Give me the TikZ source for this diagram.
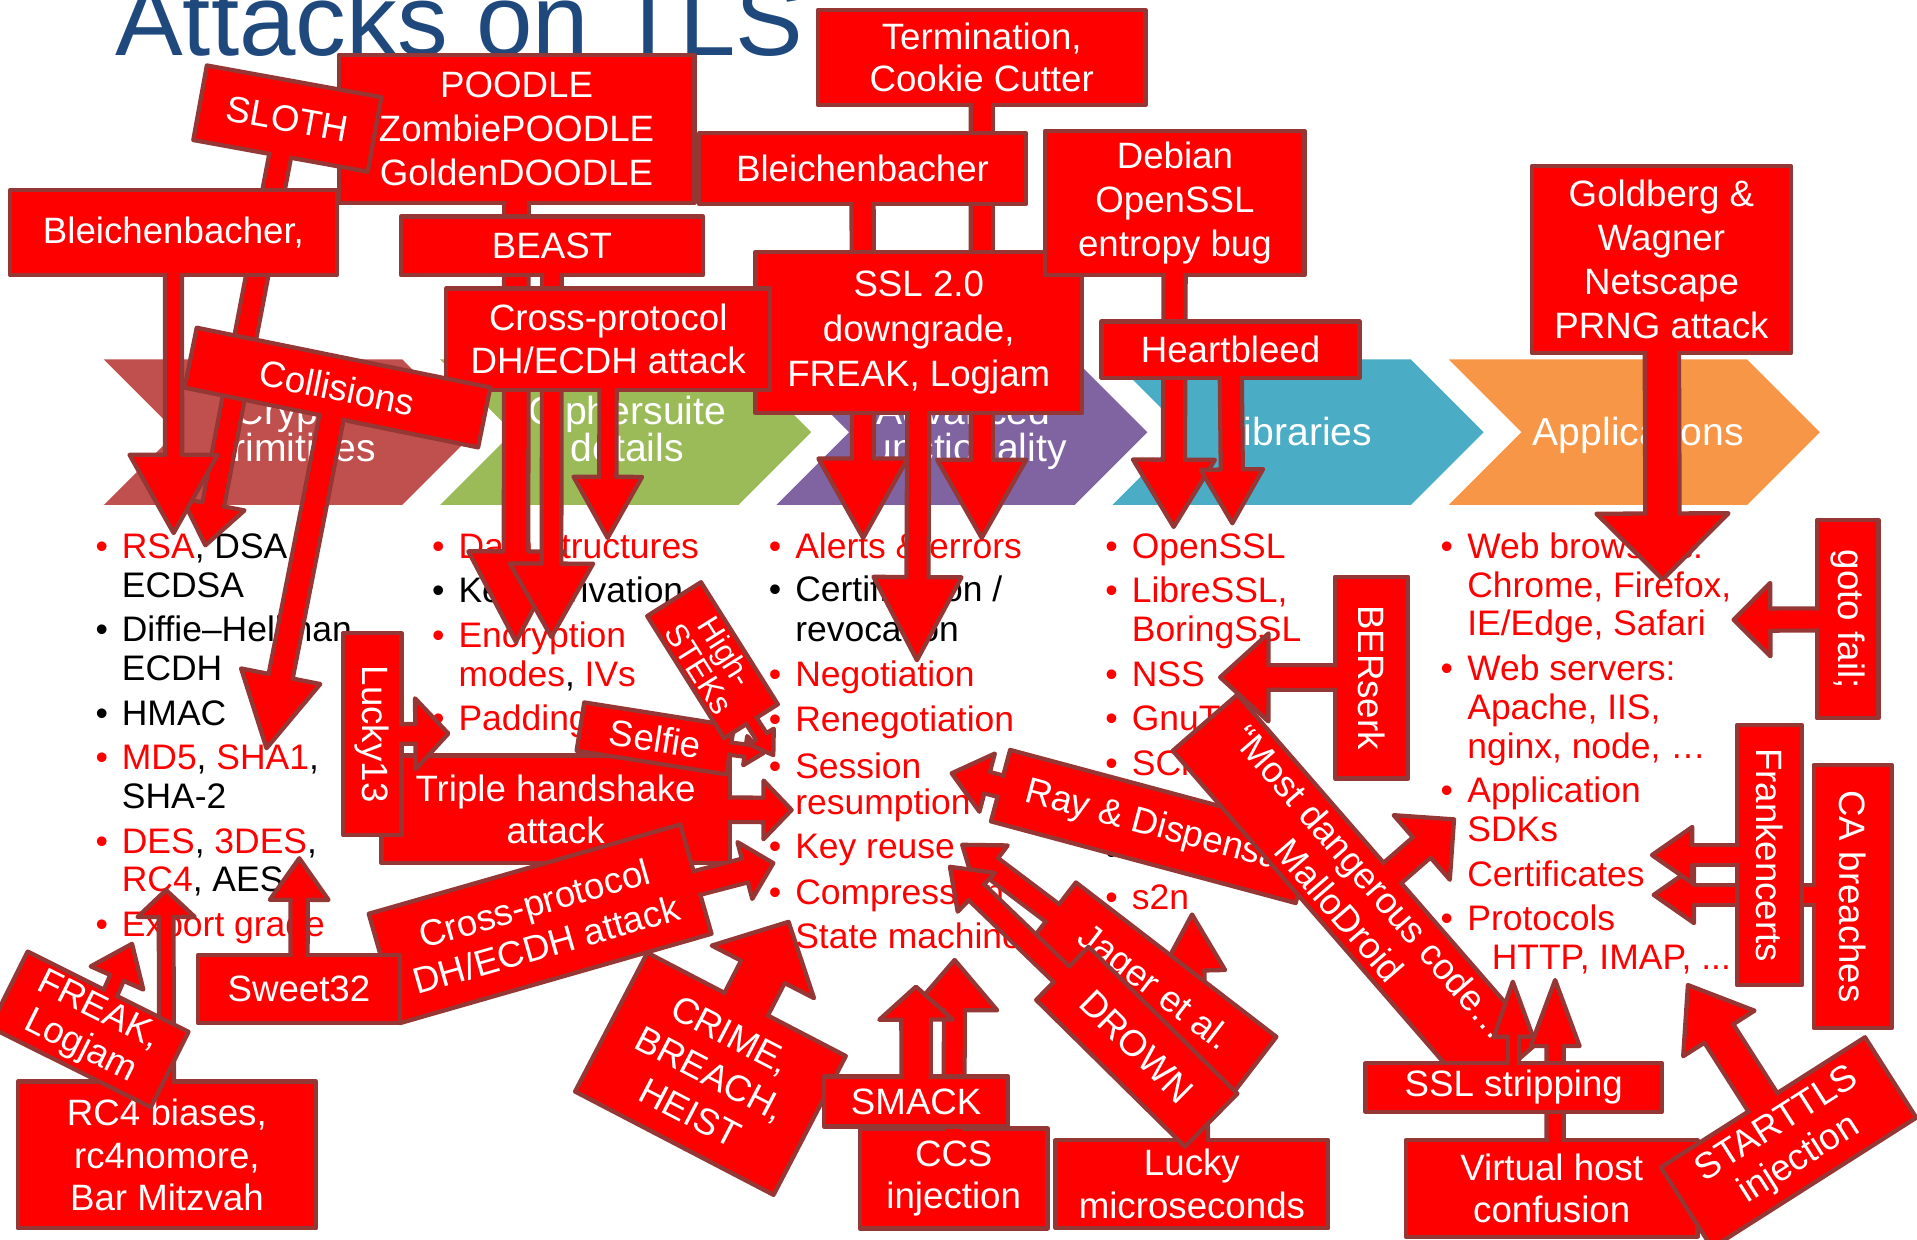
\documentclass[tikz,border=0pt]{standalone}
\usepackage{fontspec}
\setmainfont{Liberation Sans}
\usetikzlibrary{calc}

\definecolor{callred}{RGB}{255,0,0}
\definecolor{callrim}{RGB}{149,55,53}
\definecolor{titleblue}{RGB}{31,73,125}
\definecolor{chevcrypto}{RGB}{192,80,77}
\definecolor{chevcipher}{RGB}{155,187,89}
\definecolor{chevadv}{RGB}{128,100,162}
\definecolor{chevlib}{RGB}{75,172,198}
\definecolor{chevapp}{RGB}{247,150,70}
\definecolor{hot}{RGB}{255,0,0}

\newcommand\boxfont{\fontsize{30}{36}\selectfont}
\newcommand\itemfont{\fontsize{29}{32}\selectfont}
\newcommand\chevfont{\fontsize{32}{32}\selectfont}
\newcommand\rimhalf{1.75}

\tikzset{
  box/.style={fill=callred, draw=callrim, line width=3.5pt, line join=round,
    text=white, inner sep=0pt, align=center, font=\boxfont},
  dims/.style 2 args={minimum width=#1pt, minimum height=#2pt},
  arrowpart/.style={fill=callred, draw=callrim, line width=3.5pt, line join=round},
  item/.style={inner sep=0pt, anchor=base west, font=\itemfont},
  bullet/.style={inner sep=0pt, anchor=base, font=\itemfont},
  chevtext/.style={inner sep=0pt, anchor=base, text=white, font=\chevfont}
}

% fat arrow (shaft + head) from #1 to tip #2: shaft half width #3, head half width #4, head length #5
\newcommand\arrowbody[5]{%
  \coordinate (abS) at (#1);
  \coordinate (abT) at (#2);
  \coordinate (abB) at ($(abT)!#5pt!(abS)$);
  \path[arrowpart] ($(abS)!#3pt!90:(abT)$) -- ($(abB)!#3pt!-90:(abS)$)
    -- ($(abB)!#4pt!-90:(abS)$) -- (abT) -- ($(abB)!#4pt!90:(abS)$)
    -- ($(abB)!#3pt!90:(abS)$) -- ($(abS)!#3pt!-90:(abT)$) -- cycle;}

% repaint the shaft where it leaves its box, so box and arrow read as one shape
% #5 = distance from the start point to just inside the box edge
\newcommand\arrowjoin[5]{%
  \pgfmathsetmacro\ajw{#3-\rimhalf}%
  \coordinate (ajS) at ($(#1)!#5pt!(#2)$);
  \coordinate (ajT) at (#2);
  \coordinate (ajB) at ($(ajT)!#4pt!(ajS)$);
  \fill[callred] ($(ajS)!\ajw pt!90:(ajT)$) -- ($(ajB)!\ajw pt!-90:(ajS)$)
    -- ($(ajB)!\ajw pt!90:(ajS)$) -- ($(ajS)!\ajw pt!-90:(ajT)$) -- cycle;}

\newcommand\itemline[5]{\node[item, text=#4] (#1) at (#2,#3) {#5};}
\newcommand\itembullet[4]{\node[bullet, text=#4] (#1) at (#2,#3) {•};}

\begin{document}
\begin{tikzpicture}[x=1pt,y=-1pt]

\useasboundingbox (0,0) rectangle (1568,1014);
\clip (0,0) rectangle (1568,1014);

% ---------- title ----------
\node[anchor=base west, inner sep=0pt, text=titleblue,
  font=\fontsize{83}{90}\selectfont] (title) at (94,45) {Attacks on TLS};

% ---------- chevron process ----------
\foreach \cx/\cc in {85/chevcrypto,360/chevcipher,635/chevadv,910/chevlib,1185/chevapp}
  \fill[\cc] (\cx,294) -- ++(244,0) -- ++(59.5,59.5) -- ++(-59.5,59.5)
    -- ++(-244,0) -- ++(59.5,-59.5) -- cycle;
\node[chevtext] (lab-crypto1) at (240,347.6) {Crypto};
\node[chevtext] (lab-crypto2) at (240,377.6) {primitives};
\node[chevtext] (lab-cipher1) at (513,347.6) {Ciphersuite};
\node[chevtext] (lab-cipher2) at (513,377.6) {details};
\node[chevtext] (lab-adv1) at (788,347.6) {Advanced};
\node[chevtext] (lab-adv2) at (788,377.6) {functionality};
\node[chevtext] (lab-lib) at (1061,364) {Libraries};
\node[chevtext] (lab-app) at (1340,364) {Applications};

% ---------- column 1: crypto primitives ----------
\itembullet{b1a}{83.2}{456.7}{hot}
\itemline{i1a}{99.5}{456.7}{black}{\textcolor{hot}{RSA}, DSA,}
\itemline{i1b}{99.5}{488.4}{black}{ECDSA}
\itembullet{b1c}{83.2}{524.9}{black}
\itemline{i1c}{99.5}{524.9}{black}{Diffie–Hellman}
\itemline{i1d}{99.5}{556.6}{black}{ECDH}
\itembullet{b1e}{83.2}{593.1}{black}
\itemline{i1e}{99.5}{593.1}{black}{HMAC}
\itembullet{b1f}{83.2}{629.6}{hot}
\itemline{i1f}{99.5}{629.6}{black}{\textcolor{hot}{MD5}, \textcolor{hot}{SHA1},}
\itemline{i1g}{99.5}{661.3}{black}{SHA-2}
\itembullet{b1h}{83.2}{698.5}{hot}
\itemline{i1h}{99.5}{698.5}{black}{\textcolor{hot}{DES}, \textcolor{hot}{3DES},}
\itemline{i1i}{99.5}{729.5}{black}{\textcolor{hot}{RC4}, AES}
\itembullet{b1j}{83.2}{766}{hot}
\itemline{i1j}{99.5}{766}{hot}{Export grade}

% ---------- column 2: ciphersuite details ----------
\itembullet{b2a}{358.5}{456.7}{hot}
\itemline{i2a}{374.9}{456.7}{hot}{Data structures}
\itembullet{b2b}{358.5}{493.2}{black}
\itemline{i2b}{374.9}{493.2}{black}{Key derivation}
\itembullet{b2c}{358.5}{529.7}{hot}
\itemline{i2c}{374.9}{529.7}{hot}{Encryption}
\itemline{i2d}{374.9}{561.4}{black}{\textcolor{hot}{modes}, \textcolor{hot}{IVs}}
\itembullet{b2e}{358.5}{597.9}{hot}
\itemline{i2e}{374.9}{597.9}{hot}{Padding}

% ---------- column 3: advanced functionality ----------
\itembullet{b3a}{633.9}{456.7}{hot}
\itemline{i3a}{650.3}{456.7}{hot}{Alerts \& errors}
\itembullet{b3b}{633.9}{492.1}{black}
\itemline{i3b}{650.3}{492.1}{black}{Certification /}
\itemline{i3c}{650.3}{524.8}{black}{revocation}
\itembullet{b3d}{633.9}{561.6}{hot}
\itemline{i3d}{650.3}{561.6}{hot}{Negotiation}
\itembullet{b3e}{633.9}{598.5}{hot}
\itemline{i3e}{650.3}{598.5}{hot}{Renegotiation}
\itembullet{b3f}{633.9}{636.6}{hot}
\itemline{i3f}{650.3}{636.6}{hot}{Session}
\itemline{i3g}{650.3}{666.6}{hot}{resumption}
\itembullet{b3h}{633.9}{702}{hot}
\itemline{i3h}{650.3}{702}{hot}{Key reuse}
\itembullet{b3i}{633.9}{740.2}{hot}
\itemline{i3i}{650.3}{740.2}{hot}{Compression}
\itembullet{b3j}{633.9}{775.7}{hot}
\itemline{i3j}{650.3}{775.7}{hot}{State machine}

% ---------- column 4: libraries ----------
\itembullet{b4a}{909.3}{456.7}{hot}
\itemline{i4a}{925.6}{456.7}{hot}{OpenSSL}
\itembullet{b4b}{909.3}{493.2}{hot}
\itemline{i4b}{925.6}{493.2}{hot}{LibreSSL,}
\itemline{i4c}{925.6}{524.9}{hot}{BoringSSL}
\itembullet{b4d}{909.3}{561.4}{hot}
\itemline{i4d}{925.6}{561.4}{hot}{NSS}
\itembullet{b4e}{909.3}{597.9}{hot}
\itemline{i4e}{925.6}{597.9}{hot}{GnuTLS}
\itembullet{b4f}{909.3}{634.4}{hot}
\itemline{i4f}{925.6}{634.4}{hot}{SChannel}
\itembullet{b4h}{909.3}{707.4}{black}
\itembullet{b4i}{909.3}{743.9}{hot}
\itemline{i4i}{925.6}{743.9}{hot}{s2n}

% ---------- column 5: applications ----------
\itembullet{b5a}{1183.5}{456.7}{hot}
\itemline{i5a}{1200}{456.7}{hot}{Web browsers:}
\itemline{i5b}{1200}{488.4}{hot}{Chrome, Firefox,}
\itemline{i5c}{1200}{520.1}{hot}{IE/Edge, Safari}
\itembullet{b5d}{1183.5}{556.6}{hot}
\itemline{i5d}{1200}{556.6}{hot}{Web servers:}
\itemline{i5e}{1200}{588.3}{hot}{Apache, IIS,}
\itemline{i5f}{1200}{620}{hot}{nginx, node, …}
\itembullet{b5g}{1183.5}{656.5}{hot}
\itemline{i5g}{1200}{656.5}{hot}{Application}
\itemline{i5h}{1200}{688.2}{hot}{SDKs}
\itemline{i5i}{1200}{724.7}{hot}{Certificates}
\itembullet{b5j}{1183.5}{761.2}{hot}
\itemline{i5j}{1200}{761.2}{hot}{Protocols}
\itemline{i5k}{1220}{792.9}{hot}{HTTP, IMAP, ...}

% ================= attack callouts, back to front =================

% Termination, Cookie Cutter
\coordinate (c-term) at (803,47);
\coordinate (t-term) at (803,440);
\arrowbody{c-term}{t-term}{9}{36.5}{64}
\node[box, dims={268}{78}, font=\fontsize{30}{34}\selectfont] (term) at (c-term) {Termination,\\Cookie Cutter};
\arrowjoin{c-term}{t-term}{9}{64}{36}

% Bleichenbacher (alerts)
\coordinate (c-bl2) at (705.5,138);
\coordinate (t-bl2) at (706,440);
\arrowbody{c-bl2}{t-bl2}{9}{36.5}{65}
\node[box, dims={267}{58}] (bl2) at (c-bl2) {Bleichenbacher};
\arrowjoin{c-bl2}{t-bl2}{9}{65}{26}

% SSL 2.0 downgrade
\coordinate (c-ssl) at (751.5,272);
\coordinate (t-ssl) at (750,540);
\arrowbody{c-ssl}{t-ssl}{9}{36}{68}
\node[box, dims={267}{132}, font=\fontsize{30}{37}\selectfont] (ssl) at (c-ssl) {SSL 2.0\\downgrade,\\FREAK, Logjam};
\arrowjoin{c-ssl}{t-ssl}{9}{68}{63}

% Debian OpenSSL entropy bug
\coordinate (c-deb) at (961,166);
\coordinate (t-deb) at (960,431);
\arrowbody{c-deb}{t-deb}{9}{33.5}{55}
\node[box, dims={212}{118}] (deb) at (c-deb) {Debian\\OpenSSL\\entropy bug};
\arrowjoin{c-deb}{t-deb}{9}{55}{56}

% Heartbleed
\coordinate (c-heart) at (1006.5,286);
\coordinate (t-heart) at (1008,428);
\arrowbody{c-heart}{t-heart}{9}{25.5}{44}
\node[box, dims={211}{46}] (heart) at (c-heart) {Heartbleed};
\arrowjoin{c-heart}{t-heart}{9}{44}{20}

% POODLE family
\coordinate (c-poodle) at (422.5,105.5);
\coordinate (t-poodle) at (422,525);
\arrowbody{c-poodle}{t-poodle}{10}{39}{74}
\node[box, dims={291}{121}] (poodle) at (c-poodle) {POODLE\\ZombiePOODLE\\GoldenDOODLE};
\arrowjoin{c-poodle}{t-poodle}{10}{74}{57}

% SLOTH
\coordinate (c-sloth) at (235,97);
\coordinate (t-sloth) at (168,446);
\arrowbody{c-sloth}{t-sloth}{9}{26}{34}
\node[box, dims={145}{62}, rotate=-10.3] (sloth) at (c-sloth) {SLOTH};
\arrowjoin{c-sloth}{t-sloth}{9}{34}{28}

% Bleichenbacher, (RSA)
\coordinate (c-bl1) at (141.9,190.2);
\coordinate (t-bl1) at (142,436);
\arrowbody{c-bl1}{t-bl1}{7}{36}{64}
\node[box, dims={267}{70}] (bl1) at (c-bl1) {Bleichenbacher,};
\arrowjoin{c-bl1}{t-bl1}{7}{64}{32}

% BEAST
\coordinate (c-beast) at (451.5,201);
\coordinate (t-beast) at (451,521);
\arrowbody{c-beast}{t-beast}{8}{34}{60}
\node[box, dims={247}{48}] (beast) at (c-beast) {BEAST};
\arrowjoin{c-beast}{t-beast}{8}{60}{21}

% Cross-protocol DH/ECDH attack (data structures)
\coordinate (c-xpa) at (497.5,277.5);
\coordinate (t-xpa) at (497,440);
\arrowbody{c-xpa}{t-xpa}{7}{28}{50}
\node[box, dims={265}{83}, font=\fontsize{30}{35}\selectfont] (xpa) at (c-xpa) {Cross-protocol\\DH/ECDH attack};
\arrowjoin{c-xpa}{t-xpa}{7}{50}{38}

% Collisions
\coordinate (c-coll) at (276,317);
\coordinate (t-coll) at (218,612);
\arrowbody{c-coll}{t-coll}{10}{33}{60}
\node[box, dims={245}{50}, rotate=-11.5] (coll) at (c-coll) {Collisions};
\arrowjoin{c-coll}{t-coll}{10}{60}{22}

% Goldberg & Wagner
\coordinate (c-gold) at (1359,212.5);
\coordinate (t-gold) at (1360,474);
\arrowbody{c-gold}{t-gold}{14}{54}{54}
\node[box, dims={212}{153}] (gold) at (c-gold) {Goldberg \&\\Wagner\\Netscape\\PRNG attack};
\arrowjoin{c-gold}{t-gold}{14}{54}{73}

% goto fail;
\coordinate (c-goto) at (1511.4,506.5);
\coordinate (t-goto) at (1418,507);
\arrowbody{c-goto}{t-goto}{9}{30}{30}
\node[box, dims={162}{50.4}, rotate=-90] (goto) at (c-goto) {goto fail;};
\arrowjoin{c-goto}{t-goto}{9}{30}{22}

% BERserk
\coordinate (c-ber) at (1121.9,554.2);
\coordinate (t-ber) at (998,554);
\arrowbody{c-ber}{t-ber}{10}{36}{39.5}
\node[box, dims={165}{59.7}, rotate=-90] (ber) at (c-ber) {BERserk};
\arrowjoin{c-ber}{t-ber}{10}{39.5}{27}

% Ray & Dispensa
\coordinate (c-ray) at (943,676);
\coordinate (t-ray) at (778.4,632.5);
\arrowbody{c-ray}{t-ray}{9}{24.6}{30}
\node[box, dims={258}{60.5}, rotate=-15] (ray) at (c-ray) {Ray \& Dispensa};
\arrowjoin{c-ray}{t-ray}{9}{30}{126}

% Triple handshake attack
\coordinate (c-triple) at (454.5,662);
\coordinate (t-triple) at (647.5,662.5);
\arrowbody{c-triple}{t-triple}{10}{24}{23}
\node[box, dims={285}{88}, font=\fontsize{30}{35}\selectfont] (triple) at (c-triple) {Triple handshake\\attack};
\arrowjoin{c-triple}{t-triple}{10}{23}{139}

% Lucky13
\coordinate (c-l13) at (304.6,600.5);
\coordinate (t-l13) at (366.7,600);
\arrowbody{c-l13}{t-l13}{8}{29}{27}
\node[box, dims={165}{47.7}, rotate=-90] (l13) at (c-l13) {Lucky13};
\arrowjoin{c-l13}{t-l13}{8}{27}{21}

% Selfie
\coordinate (c-selfie) at (536,604);
\coordinate (t-selfie) at (624.4,616);
\arrowbody{c-selfie}{t-selfie}{5}{12}{15}
\node[box, dims={124}{40}, rotate=-9] (selfie) at (c-selfie) {Selfie};
\arrowjoin{c-selfie}{t-selfie}{5}{15}{59}

% High-STEKs
\coordinate (c-steks) at (582.8,540);
\coordinate (t-steks) at (632.5,617.6);
\arrowbody{c-steks}{t-steks}{5}{12}{18}
\node[box, dims={118}{52}, rotate=-57.8, font=\fontsize{26}{26}\selectfont] (steks) at (c-steks) {High-\\STEKs};
\arrowjoin{c-steks}{t-steks}{5}{18}{56}

% Cross-protocol DH/ECDH attack (key reuse)
\coordinate (c-xpb) at (441.8,755.6);
\coordinate (t-xpb) at (632.5,706);
\arrowbody{c-xpb}{t-xpb}{10}{24}{24}
\node[box, dims={265}{93}, rotate=16, font=\fontsize{30}{35}\selectfont] (xpb) at (c-xpb) {Cross-protocol\\DH/ECDH attack};
\arrowjoin{c-xpb}{t-xpb}{10}{24}{129}

% Sweet32
\coordinate (c-sweet) at (244.5,809);
\coordinate (t-sweet) at (244.8,702);
\arrowbody{c-sweet}{t-sweet}{7}{24}{34}
\node[box, dims={165}{56}] (sweet) at (c-sweet) {Sweet32};
\arrowjoin{c-sweet}{t-sweet}{7}{34}{25}

% CRIME, BREACH, HEIST
\coordinate (c-crime) at (581.1,878.3);
\coordinate (t-crime) at (645,754);
\arrowbody{c-crime}{t-crime}{20}{47}{46}
\node[box, dims={183}{128}, rotate=-27.5] (crime) at (c-crime) {CRIME,\\BREACH,\\HEIST};
\arrowjoin{c-crime}{t-crime}{20}{46}{61}

% RC4 biases
\coordinate (c-rc4) at (136.5,944.7);
\coordinate (t-rc4) at (135.8,728);
\arrowbody{c-rc4}{t-rc4}{6}{23.4}{22}
\node[box, dims={244}{120}, font=\fontsize{30}{35}\selectfont] (rc4) at (c-rc4) {RC4 biases,\\rc4nomore,\\Bar Mitzvah};
\arrowjoin{c-rc4}{t-rc4}{6}{22}{57}

% FREAK, Logjam (export grade)
\coordinate (c-freak) at (73,842);
\coordinate (f-freak) at (76.4,843.7);
\coordinate (t-freak) at (108,772);
\arrowbody{f-freak}{t-freak}{6}{23.5}{30.5}
\node[box, dims={147}{69}, rotate=-26.5, font=\fontsize{30}{33}\selectfont] (freak) at (c-freak) {FREAK,\\Logjam};
\arrowjoin{f-freak}{t-freak}{6}{30.5}{31}

% CCS injection
\coordinate (c-ccs) at (780.1,963.9);
\coordinate (t-ccs) at (780.8,785.2);
\arrowbody{c-ccs}{t-ccs}{8.5}{35}{41}
\node[box, dims={153.4}{81.7}, font=\fontsize{30}{35}\selectfont] (ccs) at (c-ccs) {CCS\\injection};
\arrowjoin{c-ccs}{t-ccs}{8.5}{41}{38}

% SMACK
\coordinate (c-smack) at (749.4,901);
\coordinate (t-smack) at (749.2,807);
\arrowbody{c-smack}{t-smack}{12}{30}{27}
\node[box, dims={150.4}{41}] (smack) at (c-smack) {SMACK};
\arrowjoin{c-smack}{t-smack}{12}{27}{17}

% Lucky microseconds
\coordinate (c-lmic) at (974.9,968.6);
\coordinate (f-lmic) at (980,968);
\coordinate (t-lmic) at (975,748);
\arrowbody{f-lmic}{t-lmic}{9}{26}{46}
\node[box, dims={223}{72}, font=\fontsize{30}{35}\selectfont] (lmic) at (c-lmic) {Lucky\\microseconds};
\arrowjoin{f-lmic}{t-lmic}{9}{46}{33}

% Jager et al.
\coordinate (c-jager) at (943.4,809.1);
\coordinate (t-jager) at (787,691);
\arrowbody{c-jager}{t-jager}{9}{22}{30}
\node[box, dims={207}{61}, rotate=-37.6] (jager) at (c-jager) {Jager et al.};
\arrowjoin{c-jager}{t-jager}{9}{30}{100}

% DROWN
\coordinate (c-drown) at (929.8,856.2);
\coordinate (t-drown) at (777,709);
\arrowbody{c-drown}{t-drown}{9}{22}{30}
\node[box, dims={171}{61}, rotate=-44.6] (drown) at (c-drown) {DROWN};
\arrowjoin{c-drown}{t-drown}{9}{30}{82}

% "Most dangerous code..." / MalloDroid
\coordinate (c-mdc) at (1109,733);
\coordinate (f-mdc) at (1112.5,737);
\coordinate (t-mdc) at (1189.3,670.2);
\arrowbody{f-mdc}{t-mdc}{11}{35}{35}
\node[box, dims={376}{70}, rotate=-49, font=\fontsize{30}{35}\selectfont] (mdc) at (c-mdc) {“Most dangerous code…\\MalloDroid};
\arrowjoin{f-mdc}{t-mdc}{11}{35}{32}

% Virtual host confusion
\coordinate (c-vhost) at (1269.2,972);
\coordinate (f-vhost) at (1272,972);
\coordinate (t-vhost) at (1272,801.6);
\arrowbody{f-vhost}{t-vhost}{7}{20}{54}
\node[box, dims={238.6}{79}, font=\fontsize{30}{35}\selectfont] (vhost) at (c-vhost) {Virtual host\\confusion};
\arrowjoin{f-vhost}{t-vhost}{7}{54}{36}

% SSL stripping
\coordinate (c-strip) at (1238.2,889.5);
\coordinate (t-strip) at (1237.4,803);
\arrowbody{c-strip}{t-strip}{4.5}{16}{45}
\node[box, dims={242.4}{39.6}] (strip) at (c-strip) {SSL stripping};
\arrowjoin{c-strip}{t-strip}{4.5}{45}{17}

% STARTTLS injection
\coordinate (c-starttls) at (1462.9,934.5);
\coordinate (t-starttls) at (1380.6,805.7);
\arrowbody{c-starttls}{t-starttls}{14}{34.6}{47}
\node[box, dims={198}{78}, rotate=32.5, font=\fontsize{30}{34}\selectfont] (starttls) at (c-starttls) {STARTTLS\\injection};
\arrowjoin{c-starttls}{t-starttls}{14}{47}{36}

% CA breaches
\coordinate (c-ca) at (1515.5,733.3);
\coordinate (f-ca) at (1515.5,732);
\coordinate (t-ca) at (1352.6,732);
\arrowbody{f-ca}{t-ca}{8}{23}{33}
\node[box, dims={215}{64}, rotate=-90] (ca) at (c-ca) {CA breaches};
\arrowjoin{f-ca}{t-ca}{8}{33}{29}

% Frankencerts
\coordinate (c-frank) at (1447.3,699.4);
\coordinate (t-frank) at (1351.2,699.4);
\arrowbody{c-frank}{t-frank}{8}{23}{33}
\node[box, dims={212.7}{53.2}, rotate=-90] (frank) at (c-frank) {Frankencerts};
\arrowjoin{c-frank}{t-frank}{8}{33}{23}

\end{tikzpicture}
\end{document}
